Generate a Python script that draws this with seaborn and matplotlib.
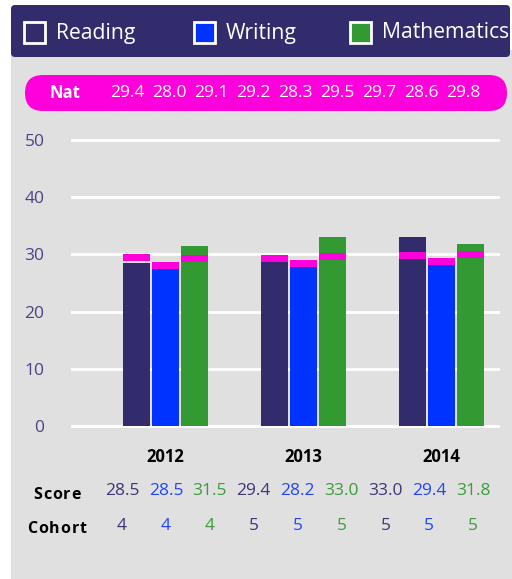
import pandas as pd
import matplotlib
matplotlib.use("Agg")
import matplotlib.pyplot as plt
from matplotlib.patches import FancyBboxPatch, Rectangle
import seaborn as sns

# --- chart data ---
years = ["2012", "2013", "2014"]
subjects = ["Reading", "Writing", "Mathematics"]
reading_score = [28.5, 29.4, 33.0]
writing_score = [28.5, 28.2, 29.4]
maths_score = [31.5, 33.0, 31.8]
reading_nat = [29.4, 29.2, 29.7]
writing_nat = [28.0, 28.3, 28.6]
maths_nat = [29.1, 29.5, 29.8]
reading_cohort = [4, 5, 5]
writing_cohort = [4, 5, 5]
maths_cohort = [4, 5, 5]
y_ticks = [0, 10, 20, 30, 40, 50]

NAVY = "#332c6c"
BLUE = "#0033ff"
GREEN = "#339933"
MAGENTA = "#ff00dd"
PANEL = "#e0e0e0"
TICK = "#4b4385"
text_colors = ["#3d3577", "#1f45ff", "#3c9c3c"]
bar_colors = [NAVY, BLUE, GREEN]

scores = [reading_score, writing_score, maths_score]
nats = [reading_nat, writing_nat, maths_nat]
cohorts = [reading_cohort, writing_cohort, maths_cohort]

df = pd.DataFrame({
    "year": [y for s in subjects for y in years],
    "subject": [s for s in subjects for _ in years],
    "score": [v for arr in scores for v in arr],
})

W, H = 512, 579
fig = plt.figure(figsize=(W / 100, H / 100), dpi=100, facecolor="white")
plt.rcParams["font.family"] = ["Open Sans", "DejaVu Sans"]

# pixel-space overlay for the panel, header and table
bg = fig.add_axes([0, 0, 1, 1], zorder=-1)
bg.set_xlim(0, W)
bg.set_ylim(H, 0)
bg.axis("off")
bg.add_patch(Rectangle((11, 50), W - 11, H - 50, facecolor=PANEL, lw=0))
bg.add_patch(FancyBboxPatch((11, 5), W - 13, 52, boxstyle="round,pad=0,rounding_size=4",
                            facecolor=NAVY, lw=0))
bg.add_patch(FancyBboxPatch((25, 75), 482, 36, boxstyle="round,pad=0,rounding_size=18",
                            facecolor=MAGENTA, lw=0))

# legend in the header
for x0, name, col in [(23, "Reading", NAVY), (193, "Writing", BLUE), (349, "Mathematics", GREEN)]:
    bg.add_patch(Rectangle((x0 + 1, 22), 21, 21, facecolor=col, edgecolor="white", lw=2))
    bg.text(x0 + 33, 33, name, color="white", fontsize=15.2, va="center", ha="left")

# national row
bg.text(65, 93, "Nat", color="white", fontsize=12, fontweight="bold", ha="center", va="center")
nat_flat = [nats[s][y] for y in range(3) for s in range(3)]
for i, v in enumerate(nat_flat):
    bg.text(127 + i * 42, 93, f"{v:.1f}", color="white", fontsize=12.5, ha="center", va="center")


def spaced(x, y, word, size, gap):
    # bold label with extra letter spacing, centred on x
    r = fig.canvas.get_renderer()
    parts = [bg.text(0, y, ch, fontsize=size, fontweight="bold", color="black",
                     ha="left", va="center") for ch in word]
    widths = [p.get_window_extent(r).width for p in parts]
    total = sum(widths) + gap * (len(word) - 1)
    cur = x - total / 2
    for p, w in zip(parts, widths):
        p.set_x(cur)
        cur += w + gap


# score / cohort rows
spaced(57, 495, "Score", 11.5, 1.0)
spaced(57, 529, "Cohort", 11.5, 1.0)
for y in range(3):
    for s in range(3):
        xc = 122 + (y * 3 + s) * 43.9
        bg.text(xc, 491, f"{scores[s][y]:.1f}", color=text_colors[s], fontsize=12.5,
                ha="center", va="center")
        bg.text(xc, 526, f"{cohorts[s][y]}", color=text_colors[s], fontsize=12.5,
                ha="center", va="center")

# main bar axes: 0 at y=426px, 50 at y=140px
ppu = (426 - 140) / 50
ymin, ymax = -0.5, 51
bottom_px = 426 + (0 - ymin) * ppu
top_px = 426 - ymax * ppu
ax = fig.add_axes([71 / W, 1 - bottom_px / H, (500 - 71) / W, (bottom_px - top_px) / H])
ax.set_facecolor("none")

sns.barplot(data=df, x="year", y="score", hue="subject", order=years, hue_order=subjects,
            palette=bar_colors, width=0.63, gap=0.07, saturation=1, legend=False,
            errorbar=None, ax=ax, zorder=2, linewidth=0)

# national average markers over each bar
score_bars = list(ax.containers)[:3]
for s, cont in enumerate(score_bars):
    for j, bar in enumerate(cont):
        ax.bar(bar.get_x(), 1.25, bottom=nats[s][j] - 0.5, width=bar.get_width(),
               align="edge", color=MAGENTA, lw=0, zorder=3)

ax.set_ylim(ymin, ymax)
ax.set_xlim(-(165.5 - 71) / 138, 2 + (500 - 441.5) / 138)
ax.set_yticks(y_ticks)
ax.grid(axis="y", color="white", lw=2, zorder=0)
ax.set_axisbelow(True)
for sp in ax.spines.values():
    sp.set_visible(False)
ax.tick_params(axis="y", length=0, pad=19, labelcolor=TICK, labelsize=12.5)
ax.tick_params(axis="x", length=0, pad=14, labelsize=12)
for lab in ax.get_xticklabels():
    lab.set_fontweight("bold")
ax.set_xlabel("")
ax.set_ylabel("")

fig.savefig("out.png", dpi=100)
